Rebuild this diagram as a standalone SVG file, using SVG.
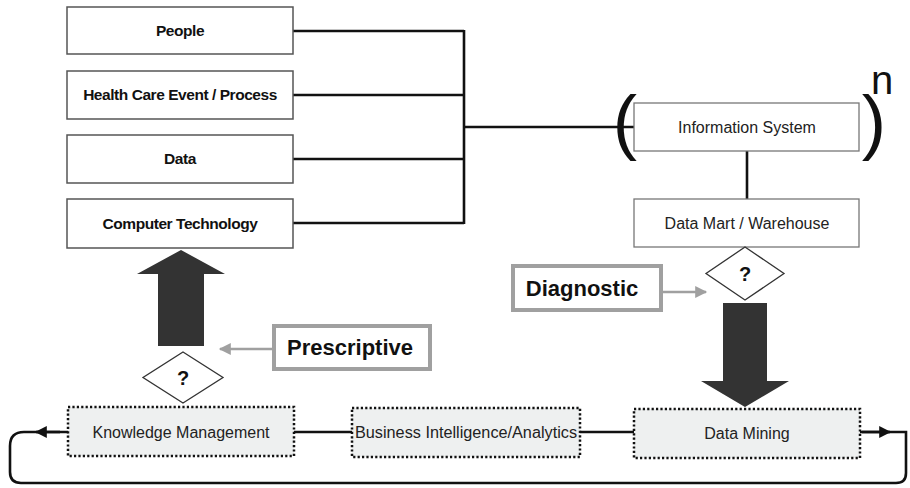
<svg xmlns="http://www.w3.org/2000/svg" width="910" height="488" viewBox="0 0 910 488">
<defs>
<style>
.box{fill:#fff;stroke:#555;stroke-width:1.5}
.ibox{fill:#fff;stroke:#777;stroke-width:1.3}
.dbox{fill:#eef0f0;stroke:#111;stroke-width:2.5;stroke-dasharray:2.2 2.2}
.gbox{fill:#fff;stroke:#a0a0a0;stroke-width:4}
.dia{fill:#fff;stroke:#333;stroke-width:1.3}
.big{fill:#333}
.ln{fill:none;stroke:#111;stroke-width:2.6}
.gl{fill:none;stroke:#a0a0a0;stroke-width:2.5}
.tb{font-family:"Liberation Sans",Arial,sans-serif;font-weight:bold;font-size:15.5px;fill:#111;text-anchor:middle;letter-spacing:-0.45px}
.tn{font-family:"Liberation Sans",Arial,sans-serif;font-size:16px;fill:#222;text-anchor:middle}
.tl{font-family:"Liberation Sans",Arial,sans-serif;font-weight:bold;font-size:22px;fill:#111;text-anchor:middle}
.tq{font-family:"Liberation Sans",Arial,sans-serif;font-weight:bold;font-size:20px;fill:#111;text-anchor:middle}
.tp{font-family:"Liberation Sans",Arial,sans-serif;font-size:73px;fill:#111;text-anchor:middle}
</style>
<marker id="ah" viewBox="0 0 10 10" refX="9" refY="5" markerWidth="12" markerHeight="12" markerUnits="userSpaceOnUse" orient="auto"><path d="M0,0 L10,5 L0,10 Z" fill="#111"/></marker>
<marker id="gh" viewBox="0 0 10 10" refX="9" refY="5" markerWidth="14" markerHeight="12" markerUnits="userSpaceOnUse" orient="auto"><path d="M0,0 L10,5 L0,10 Z" fill="#a0a0a0"/></marker>
</defs>
<rect width="910" height="488" fill="#fff"/>
<g id="connectors">
<path class="ln" d="M293,31 H464 M293,95 H464 M293,159 H464 M293,223 H464 M464,30 V224 M464,127 H634"/>
<path class="ln" d="M747,151 V199"/>
<path class="ln" d="M294,432 H352 M580,432 H634"/>
<path class="ln" d="M68,432 H24 Q10,432 10,446 V472 Q10,483 21,483 H896 Q906,483 906,473 V432 H860"/>
<path class="ln" d="M60,432 L36,432" marker-end="url(#ah)"/>
<path class="ln" d="M862,432 L890,432" marker-end="url(#ah)"/>
<path class="gl" d="M274,349 L220,349" marker-end="url(#gh)"/>
<path class="gl" d="M661,292 L706,292" marker-end="url(#gh)"/>
</g>
<g id="people"><rect class="box" x="67" y="7" width="226" height="47"/><text class="tb" x="180" y="36">People</text></g>
<g id="health-care"><rect class="box" x="67" y="71" width="226" height="48"/><text class="tb" x="180" y="100">Health Care Event / Process</text></g>
<g id="data"><rect class="box" x="67" y="135" width="226" height="48"/><text class="tb" x="180" y="164">Data</text></g>
<g id="computer-technology"><rect class="box" x="67" y="199" width="226" height="49"/><text class="tb" x="180" y="229">Computer Technology</text></g>
<g id="information-system"><rect class="ibox" x="634" y="103" width="225" height="48"/><text class="tn" x="747" y="133">Information System</text>
<text class="tp" x="625" y="146">(</text><text class="tp" x="874" y="146">)</text>
<text font-family="Liberation Sans, Arial, sans-serif" font-size="40" fill="#111" x="871" y="94">n</text></g>
<g id="data-mart"><rect class="ibox" x="634" y="199" width="225" height="48"/><text class="tn" x="747" y="229">Data Mart / Warehouse</text></g>
<g id="diamond-right"><path class="dia" d="M745,247 L784,273.5 L745,300 L706,273.5 Z"/><text class="tq" x="745" y="281">?</text></g>
<g id="diagnostic"><rect class="gbox" x="513" y="266" width="148" height="44"/><text class="tl" x="582" y="296">Diagnostic</text></g>
<g id="arrow-down"><path class="big" d="M723,303 H767 V381 H789 L745,407 L701,381 H723 Z"/></g>
<g id="arrow-up"><path class="big" d="M181,250 L225,274 H204 V346 H158 V274 H137 Z"/></g>
<g id="diamond-left"><path class="dia" d="M183,352 L223,377.5 L183,403 L143,377.5 Z"/><text class="tq" x="183" y="385">?</text></g>
<g id="prescriptive"><rect class="gbox" x="274" y="326" width="156" height="43"/><text class="tl" x="350" y="355">Prescriptive</text></g>
<g id="knowledge-management"><rect class="dbox" x="68" y="407" width="226" height="49"/><text class="tn" x="181" y="438">Knowledge Management</text></g>
<g id="business-intelligence"><rect class="dbox" x="352" y="408" width="228" height="49"/><text class="tn" x="466" y="438" textLength="222" lengthAdjust="spacingAndGlyphs">Business Intelligence/Analytics</text></g>
<g id="data-mining"><rect class="dbox" x="634" y="409" width="226" height="49"/><text class="tn" x="747" y="439">Data Mining</text></g>
</svg>
